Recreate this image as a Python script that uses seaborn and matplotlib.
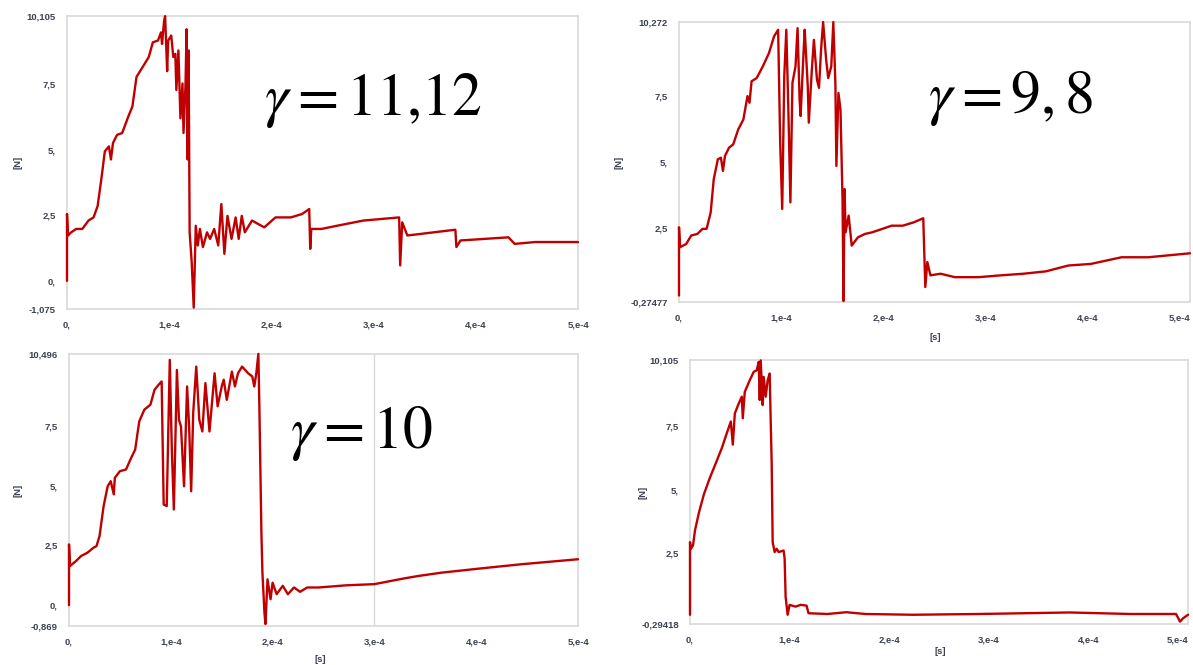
import numpy as np
import pandas as pd
import matplotlib
matplotlib.use("Agg")
import matplotlib.pyplot as plt
import seaborn as sns

# 시간축 값은 1e-4 s 단위로 기록 (화면에서 읽은 값)
# gamma = 11,12
t1 = [0, 0, 0.01, 0.04, 0.09, 0.15, 0.21, 0.26, 0.30, 0.34, 0.37, 0.41, 0.43, 0.45, 0.49, 0.54,
      0.60, 0.64, 0.68, 0.75, 0.80, 0.84, 0.89, 0.92, 0.93, 0.95, 0.96, 0.98, 0.99, 1.02, 1.04,
      1.06, 1.07, 1.09, 1.11, 1.13, 1.14, 1.16, 1.17, 1.18, 1.19, 1.20, 1.22, 1.24, 1.26, 1.28,
      1.30, 1.33, 1.37, 1.40, 1.44, 1.48, 1.51, 1.54, 1.57, 1.61, 1.65, 1.68, 1.71, 1.74, 1.81,
      1.93, 2.04, 2.19, 2.30, 2.37, 2.38, 2.39, 2.49, 2.64, 2.90, 3.25, 3.26, 3.28, 3.33, 3.46,
      3.80, 3.81, 3.85, 4.32, 4.38, 4.58, 5.0]
f1 = [0, 2.55, 1.73, 1.85, 1.98, 1.98, 2.3, 2.42, 2.86, 4.0, 4.94, 5.13, 4.63, 5.26, 5.57, 5.64,
      6.27, 6.65, 7.78, 8.22, 8.54, 9.1, 9.17, 9.48, 9.04, 9.92, 10.1, 8.0, 9.17, 9.36, 8.54,
      8.66, 7.28, 8.79, 6.2, 7.53, 5.64, 7.53, 9.6, 4.63, 8.79, 1.85, 0.72, -1.02, 2.1, 1.35,
      1.98, 1.29, 1.85, 1.6, 1.98, 1.35, 2.93, 1.03, 2.48, 1.6, 2.42, 1.6, 2.48, 1.85, 2.3,
      2.04, 2.42, 2.42, 2.55, 2.74, 1.22, 1.98, 1.98, 2.1, 2.3, 2.42, 0.59, 2.23, 1.73, 1.79,
      1.95, 1.29, 1.54, 1.66, 1.41, 1.48, 1.48]

# gamma = 9,8
t2 = [0, 0, 0.01, 0.07, 0.12, 0.18, 0.23, 0.27, 0.31, 0.34, 0.38, 0.41, 0.43, 0.45, 0.49, 0.53,
      0.58, 0.63, 0.67, 0.69, 0.71, 0.76, 0.82, 0.88, 0.93, 0.97, 0.99, 1.01, 1.03, 1.05, 1.07,
      1.09, 1.11, 1.14, 1.16, 1.18, 1.19, 1.22, 1.23, 1.26, 1.27, 1.30, 1.32, 1.35, 1.37, 1.39,
      1.41, 1.44, 1.46, 1.49, 1.51, 1.53, 1.54, 1.56, 1.58, 1.60, 1.61, 1.62, 1.63, 1.66, 1.69,
      1.75, 1.82, 1.89, 1.99, 2.08, 2.19, 2.30, 2.39, 2.41, 2.43, 2.46, 2.56, 2.70, 2.93, 3.15,
      3.37, 3.59, 3.81, 4.03, 4.33, 4.59, 5.0]
f2 = [-0.03, 2.54, 1.79, 1.91, 2.23, 2.29, 2.48, 2.48, 3.1, 4.35, 5.1, 5.16, 4.66, 5.23, 5.54, 5.66,
      6.23, 6.6, 7.48, 7.23, 8.04, 8.16, 8.6, 9.1, 9.73, 9.98, 5.73, 3.23, 8.23, 9.98, 6.98,
      3.48, 7.98, 8.6, 10.04, 7.35, 6.73, 9.23, 9.98, 7.85, 6.48, 8.48, 9.6, 8.1, 7.79, 9.23,
      10.27, 8.85, 8.16, 8.6, 10.27, 7.98, 4.85, 7.6, 6.98, 3.6, -0.24, 3.98, 2.35, 2.98, 1.85,
      2.16, 2.29, 2.35, 2.48, 2.6, 2.6, 2.73, 2.88, 0.29, 1.23, 0.73, 0.79, 0.66, 0.66, 0.73,
      0.79, 0.88, 1.1, 1.16, 1.41, 1.41, 1.56]

# gamma = 10
t3 = [0, 0, 0.01, 0.07, 0.12, 0.18, 0.24, 0.27, 0.30, 0.34, 0.38, 0.41, 0.44, 0.45, 0.50, 0.56,
      0.61, 0.65, 0.69, 0.74, 0.80, 0.84, 0.88, 0.91, 0.93, 0.96, 0.99, 1.01, 1.03, 1.06, 1.08,
      1.10, 1.13, 1.16, 1.18, 1.20, 1.22, 1.25, 1.28, 1.31, 1.34, 1.38, 1.43, 1.46, 1.50, 1.52,
      1.55, 1.60, 1.63, 1.66, 1.70, 1.76, 1.80, 1.82, 1.84, 1.86, 1.87, 1.89, 1.90, 1.92, 1.93,
      1.95, 1.98, 2.00, 2.04, 2.10, 2.15, 2.21, 2.27, 2.34, 2.45, 2.72, 3.0, 3.28, 3.43, 3.66,
      4.03, 4.44, 5.0]
f3 = [0, 2.54, 1.64, 1.85, 2.06, 2.19, 2.4, 2.47, 2.89, 4.14, 4.97, 5.18, 4.63, 5.32, 5.6, 5.67,
      6.15, 6.5, 7.68, 8.17, 8.38, 9.0, 9.21, 9.35, 4.21, 4.14, 10.25, 6.5, 4.0, 9.83, 7.75,
      7.47, 4.97, 9.14, 7.47, 4.76, 8.03, 9.97, 7.75, 7.26, 9.28, 7.26, 9.69, 8.31, 9.14, 9.42,
      8.58, 9.76, 9.14, 9.69, 9.97, 9.69, 9.56, 9.14, 9.69, 10.5, 8.31, 3.03, 1.36, -0.31, -0.79,
      1.08, 0.25, 0.94, 0.46, 0.81, 0.46, 0.74, 0.56, 0.74, 0.74, 0.83, 0.88, 1.11, 1.22, 1.36,
      1.53, 1.71, 1.92]

# 네 번째 (라벨 없음)
t4 = [0, 0, 0.01, 0.03, 0.05, 0.09, 0.14, 0.20, 0.26, 0.32, 0.37, 0.41, 0.43, 0.45, 0.49, 0.52,
      0.53, 0.55, 0.60, 0.64, 0.67, 0.69, 0.70, 0.71, 0.73, 0.74, 0.76, 0.78, 0.80, 0.81, 0.82,
      0.83, 0.85, 0.87, 0.89, 0.94, 0.95, 0.96, 0.98, 1.00, 1.06, 1.11, 1.17, 1.19, 1.38, 1.57,
      1.76, 2.24, 2.90, 3.81, 4.42, 4.88, 4.92, 4.95, 5.0]
f4 = [0.07, 2.93, 2.67, 2.8, 3.39, 4.1, 4.82, 5.47, 6.05, 6.64, 7.23, 7.68, 6.77, 8.0, 8.4, 8.66,
      7.81, 8.85, 9.31, 9.64, 9.7, 10.03, 8.53, 10.09, 8.33, 9.44, 8.66, 9.31, 9.57, 7.75, 6.05,
      2.93, 2.54, 2.67, 2.54, 2.6, 2.28, 0.78, 0.07, 0.46, 0.39, 0.46, 0.43, 0.13, 0.1, 0.17,
      0.1, 0.07, 0.1, 0.16, 0.1, 0.1, -0.2, -0.07, 0.07]

# 축 범위와 눈금 라벨
ylims = [(-1.075, 10.105), (-0.27477, 10.272), (-0.869, 10.496), (-0.29418, 10.105)]
yticks = [[-1.075, 0, 2.5, 5, 7.5, 10.105],
          [-0.27477, 2.5, 5, 7.5, 10.272],
          [-0.869, 0, 2.5, 5, 7.5, 10.496],
          [-0.29418, 2.5, 5, 7.5, 10.105]]
yticklabels = [["-1,075", "0,", "2,5", "5,", "7,5", "10,105"],
               ["-0,27477", "2,5", "5,", "7,5", "10,272"],
               ["-0,869", "0,", "2,5", "5,", "7,5", "10,496"],
               ["-0,29418", "2,5", "5,", "7,5", "10,105"]]
xticks = [0, 1, 2, 3, 4, 5]
xticklabels = ["0,", "1,e-4", "2,e-4", "3,e-4", "4,e-4", "5,e-4"]
gamma_labels = [r"$\gamma = 11{,}12$", r"$\gamma = 9, 8$", r"$\gamma = 10$", None]

sns.set_style("white")
plt.rcParams["font.family"] = ["Liberation Sans", "DejaVu Sans"]
plt.rcParams["mathtext.fontset"] = "stix"

W, H = 1193, 665
fig = plt.figure(figsize=(W / 100, H / 100), dpi=100)
fig.patch.set_facecolor("white")

# 패널 위치 (픽셀: left, right, top, bottom)
boxes = [(67, 578, 16, 309), (679, 1190, 22, 302), (69, 578, 354, 626), (690, 1188, 360, 624)]
series = [(t1, f1), (t2, f2), (t3, f3), (t4, f4)]
ylab_x = [18, 619, 18, 643]
xlab = [None, (935, 338), (320, 659), (940, 651)]
gamma_pos = [(264, 115), (928, 113), (290, 448), None]

RED = "#c00000"
GRID = "#d9d9d9"
TXT = "#3c4250"

for i in range(4):
    l, r, t, b = boxes[i]
    ax = fig.add_axes([l / W, 1 - b / H, (r - l) / W, (b - t) / H])
    df = pd.DataFrame({"t": series[i][0], "F": series[i][1]})
    sns.lineplot(data=df, x="t", y="F", ax=ax, color=RED, linewidth=1.7,
                 sort=False, estimator=None)
    for ln in ax.lines:
        ln.set_zorder(3)
        ln.set_clip_on(False)
    ax.set_xlim(0, 5)
    ax.set_ylim(*ylims[i])
    ax.set_xticks(xticks)
    ax.set_xticklabels(xticklabels)
    ax.set_yticks(yticks[i])
    ax.set_yticklabels(yticklabels[i])
    ax.tick_params(axis="both", length=5, width=1, color=GRID, labelsize=6.8,
                   labelcolor=TXT, pad=3)
    for lab in ax.get_xticklabels() + ax.get_yticklabels():
        lab.set_fontweight("bold")
    if i in (1, 3):
        ax.get_xticklabels()[-1].set_horizontalalignment("right")
    ax.set_xlabel("")
    ax.set_ylabel("")
    for sp in ax.spines.values():
        sp.set_color(GRID)
        sp.set_linewidth(1.2)
    if i == 2:
        ax.axvline(3, color=GRID, linewidth=1, zorder=0)

    fig.text(ylab_x[i] / W, 1 - ((t + b) / 2) / H, "[N]", rotation=90, fontsize=6.8,
             fontweight="bold", color=TXT, ha="center", va="center")
    if xlab[i] is not None:
        fig.text(xlab[i][0] / W, 1 - xlab[i][1] / H, "[s]", fontsize=6.8,
                 fontweight="bold", color=TXT, ha="center", va="center")
    if gamma_labels[i] is not None:
        gx, gy = gamma_pos[i]
        fig.text(gx / W, 1 - gy / H, gamma_labels[i], fontsize=43, color="black",
                 ha="left", va="baseline")

fig.savefig("out.png", dpi=100, facecolor="white")
